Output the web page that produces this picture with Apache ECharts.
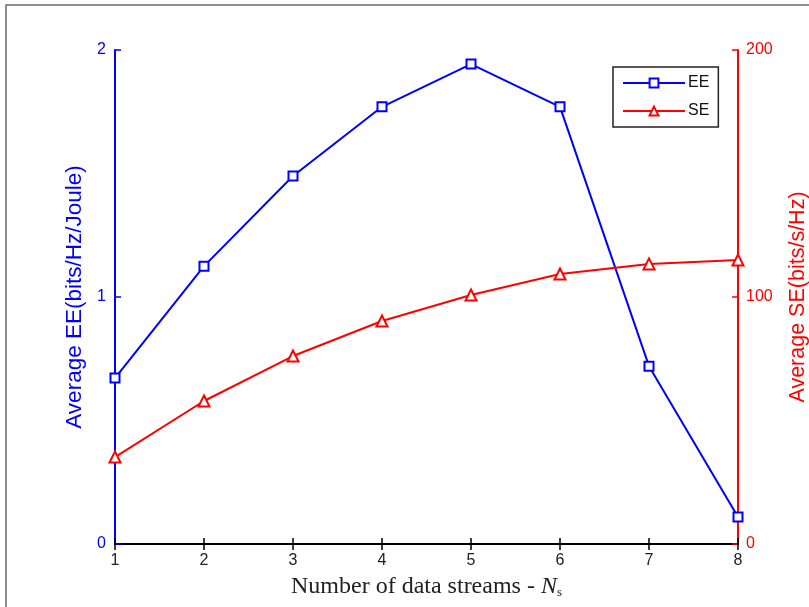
<!DOCTYPE html>
<html>
<head>
<meta charset="utf-8">
<script src="https://cdn.jsdelivr.net/npm/echarts@6/dist/echarts.min.js"></script>
<style>
  html, body { margin: 0; padding: 0; background: #fff; overflow: hidden; }
  #chart { width: 809px; height: 607px; }
</style>
</head>
<body>
<div id="chart"></div>
<script>
// Number of data streams N_s
const streams = [1, 2, 3, 4, 5, 6, 7, 8];
// Average energy efficiency (bits/Hz/Joule)
const eeValues = [0.672, 1.125, 1.49, 1.77, 1.943, 1.77, 0.72, 0.109];
// Average spectral efficiency (bits/s/Hz)
const seValues = [35.2, 57.9, 76.1, 90.3, 100.8, 109.3, 113.4, 115.0];
// Tick values on each axis
const xTicks = [1, 2, 3, 4, 5, 6, 7, 8];
const eeTicks = [0, 1, 2];
const seTicks = [0, 100, 200];

const BLUE = '#0000ff';
const RED = '#ff0000';
const FONT = '"Liberation Sans", Arial, sans-serif';
const SERIF = '"Liberation Serif", "Times New Roman", serif';

const chart = echarts.init(document.getElementById('chart'), null, {
  renderer: 'canvas', width: 809, height: 607
});

const pairs = (ys) => streams.map((x, i) => [x, ys[i]]);

chart.setOption({
  animation: false,
  backgroundColor: '#fff',
  textStyle: { fontFamily: FONT },
  graphic: [{
    type: 'rect',
    z: -10,
    shape: { x: 6, y: 5, width: 820, height: 620 },
    style: { fill: 'none', stroke: '#6a6a6a', lineWidth: 1.5 }
  }],
  grid: {
    left: 115, right: 71, top: 50, bottom: 63,
    containLabel: false,
    outerBoundsMode: 'none'
  },
  legend: {
    orient: 'vertical',
    left: 613,
    top: 67,
    padding: [8, 9, 8, 9],
    itemGap: 12,
    itemWidth: 62,
    itemHeight: 11,
    borderColor: '#222',
    borderWidth: 1.5,
    backgroundColor: '#fff',
    textStyle: { fontSize: 16, color: '#111', fontFamily: FONT, padding: [0, 0, 0, -2] },
    data: ['EE', 'SE']
  },
  xAxis: [{
    type: 'value',
    position: 'bottom',
    min: xTicks[0],
    max: xTicks[xTicks.length - 1],
    interval: 1,
    name: '{t|Number of data streams - }{n|N}{s|s}',
    nameLocation: 'middle',
    nameGap: 31,
    nameTextStyle: {
      rich: {
        t: { fontFamily: SERIF, fontSize: 24, color: '#222' },
        n: { fontFamily: SERIF, fontSize: 24, fontStyle: 'italic', color: '#222' },
        s: { fontFamily: SERIF, fontSize: 13, color: '#222', verticalAlign: 'bottom', padding: [10, 0, 0, 0] }
      }
    },
    axisLine: { lineStyle: { color: '#000', width: 2 } },
    axisTick: { inside: true, length: 6, lineStyle: { color: '#000', width: 1.5 } },
    axisLabel: { fontSize: 16, color: '#222', margin: 9, fontFamily: FONT },
    splitLine: { show: false }
  }, {
    type: 'value',
    position: 'top',
    min: xTicks[0],
    max: xTicks[xTicks.length - 1],
    interval: 1,
    axisLine: { lineStyle: { color: '#000', width: 2 } },
    axisTick: { inside: true, length: 6, lineStyle: { color: '#000', width: 1.5 } },
    axisLabel: { show: false },
    splitLine: { show: false }
  }],
  yAxis: [{
    type: 'value',
    position: 'left',
    min: eeTicks[0],
    max: eeTicks[eeTicks.length - 1],
    interval: 1,
    name: 'Average EE(bits/Hz/Joule)',
    nameLocation: 'middle',
    nameGap: 28,
    nameTextStyle: { fontSize: 22.5, color: BLUE, fontFamily: FONT },
    axisLine: { lineStyle: { color: BLUE, width: 2 } },
    axisTick: { inside: true, length: 6, lineStyle: { color: BLUE, width: 1.5 } },
    axisLabel: { fontSize: 16, color: BLUE, margin: 9, fontFamily: FONT },
    splitLine: { show: false }
  }, {
    type: 'value',
    position: 'right',
    min: seTicks[0],
    max: seTicks[seTicks.length - 1],
    interval: 100,
    name: 'Average SE(bits/s/Hz)',
    nameLocation: 'middle',
    nameGap: 49,
    nameTextStyle: { fontSize: 21.5, color: RED, fontFamily: FONT },
    axisLine: { lineStyle: { color: RED, width: 2 } },
    axisTick: { inside: true, length: 6, lineStyle: { color: RED, width: 1.5 } },
    axisLabel: { fontSize: 16, color: RED, margin: 8, fontFamily: FONT },
    splitLine: { show: false }
  }],
  series: [{
    name: 'EE',
    type: 'line',
    xAxisIndex: 0,
    yAxisIndex: 0,
    data: pairs(eeValues),
    symbol: 'emptyRect',
    symbolSize: 9,
    color: BLUE,
    lineStyle: { color: BLUE, width: 2 },
    itemStyle: { color: BLUE, borderColor: BLUE, borderWidth: 2 },
    z: 3
  }, {
    name: 'SE',
    type: 'line',
    xAxisIndex: 0,
    yAxisIndex: 1,
    data: pairs(seValues),
    symbol: 'emptyTriangle',
    symbolSize: 11,
    color: RED,
    lineStyle: { color: RED, width: 2 },
    itemStyle: { color: RED, borderColor: RED, borderWidth: 2 },
    z: 3
  }]
});
</script>
</body>
</html>
